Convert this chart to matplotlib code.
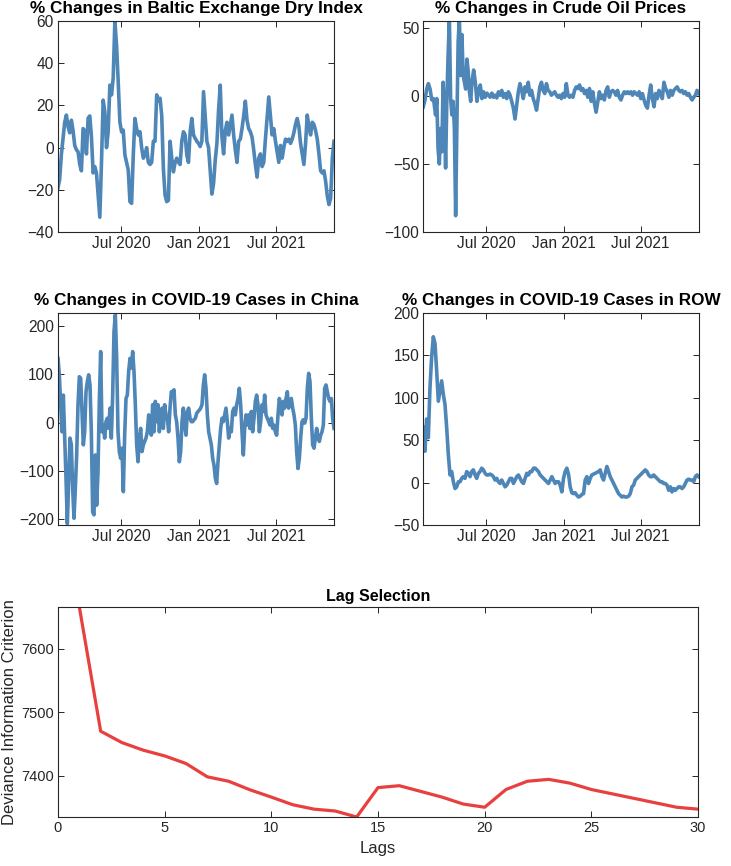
import numpy as np
import pandas as pd
import matplotlib
matplotlib.use("Agg")
import matplotlib.pyplot as plt
import matplotlib.dates as mdates

plt.rcParams['font.family'] = ['Liberation Sans', 'DejaVu Sans']

# ---------------- data ----------------
start_date = "2020-02-03"
end_date = "2021-11-15"

baltic = [-19, -15, -3.5, 4.4, 12, 15.4, 10, 7, 13, 8, 1, -1, -2, -8, -11, 9, 8, -3, 14, 15,
          5, -12, -9, -12, -22.5, -33, -7, 22.5, 17, 0, 7.5, 29.6, 25, 33, 60, 48.6, 31, 12, 7.5, 8.3,
          -3.5, -7, -10.6, -25.6, -26.4, -3.5, 13.8, 9, 6, 7.5, 0, -5, -3.5, 0, -7, -8, -7, 3, 3, 25,
          22, 23.4, 15.4, -10, -22.5, -25.6, -25, 3, -5, -11.5, -7, -5, -7, -8, 3, 7.5, 6, -3.5, -7, 7.5,
          13.8, 6, 4.4, 3, 2, 0.5,
          3, 26.5, 15, 3, 0, -11, -22, -17, -6, 2, 18, 29.6, 5, -3, 8, 12, 6, 10.7, 15.4, 6,
          -1, -7, 3, 4, 9, 15, 22, 13, 9, 7.5, 5, -1, -8, -14, -5, -3, -9, -7, 4, 14,
          24, 15, 6, 9, 3, -2, -7, 1, -5, 0, 4, 3, 4, 2, 4, 7, 11, 13.8, 10, 2,
          -3, -8, 2, 15.4, 10, 6, 12, 11, 8, 4, -3, -11, -12, -11, -16, -23, -27, -24, -5, 3]

oil_early = [-8, -3, 5, 9, 5, -3, -2]
oil_early_dates = ("2020-02-03", "2020-02-27")
oil_crash = [-14, -2, -39, -50, -24, -41, 10, -14, -53, -2, 30, 57, -2, -14, -4,
             -24, -88, -21, 40, 57, 15, 45, 15, 10, 5, 27, 18, 3, -4, 10]
oil_crash_dates = ("2020-03-03", "2020-05-28")
oil_late = [19, 10, -4, 4, 8, -2, 3, -1, 2, 0.5, -1, 2, -1, 0.5, -1.5, 3, 0.5, 4, -1, 1.7,
            -2, 3, 0.5, -4, -9,
            -17,
            -7, 3, 9, 4, -2, 6.6, 3, 10, 0.5, 4, -2, -5.6, -10.5, -2, 6.6, 10, 4, 1.7, 9, 4,
            3, 0.5, 1.7, 3, 0.5, -1, 0.5, -2, 1.7, -1,
            9, 0.5, -1, 0.5, -1, 4, 6.6, 5.4, 8, 4, 5.4, 1.7, 4, -1, 5.4, -4, 3, -5.6, -12,
            -4.4,
            3, -2, 0.5, -3, 4, 6.6, -1, 3, 4, 3, 0.5, 4, -1, -3, 0.5, 3, 1.7, 3, 1.7, 3,
            0.5, 3, 1.7, 0.5, 3, -2, 1.7, -3, -7, -9, 0.5, 8, -2, -8, 1.7, -2, 4, 1.7, -2, 10,
            5.4, 3, -1, 4, 0.5, 4, 5.4, 6.6, 4, 3, 4, 1.7, 3, 0.5, 1.7, -1, -3, -1, 0.5, 4,
            1.7]
oil_late_dates = ("2020-06-01", "2021-11-15")

china = [133, 99, 37, -19, 57, -26, -115, -209, -122, -32, -46, -136, -198, -136, -67, 37, 95, 92, 23, -46,
         -19, 64, 85, 99, 78, -19, -185, -191, -67, -171, -102, 44, 147, -19, -5, -32, 2, 9, -12, 30,
         -32, 57, 189, 223, 133, -19, -60, -74, -53, -143, -26, 50, 57, 106, 133, 113, 147, 106, 37, -46,
         -81, -32, -12, -60, -46, -39, -32, -19, 16, 9, -26, 37, -19, 44, 2, 37, -19, 9, 30, -12,
         37, 16, 9, -19, 30, 64, 64, 68, 16, 2, -32, -81, -60, 2, 30, -5, -26, 23, 30, 9,
         2, 2, 6, 9, 19, 23, 26,
         30, 37, 78, 99, 71, 16, -19, -32, -46, -74, -88, -115, -126, -81, -46, -12, 9, 2, 16, 30,
         2, -32, -12, -19, 23, 30, 16, 37, 50, 71, 37, -19, -67, -12, 16, -5, 16, -12, 23, -19,
         9, 44, 57, 37, -19, 2, 37, 23, 57, 16, 9, 2, -5, 9, -12, -5, -19, -26, 16, 50,
         37, 16, 44, 30, 50, 64, 30, 44, 50, 30, 16, -5, -60, -95, -74, -32, 2, 6, -1, 9,
         71, 102, 85, 9, -46, -53, -32, -12, -32, -39, -26, -19, -5, 71, 78, 64, 50, 44, 50, 9,
         -12]

row = [65, 37, 75, 53, 112, 148, 172, 164, 132, 96, 108, 120, 104, 92, 65, 33, 9, 13, 1, -7,
       -5, 1, 1, 5, 7, 5, 13, 11, 7, 13, 15, 9, 5, 11, 13, 17, 15, 11, 9, 9,
       10, 9, 7, 3, 5, 1, -1, 3, -1, -5, -3, 1, 5, 5, -1, 3, 7, 9, 5, 1,
       -1, 5, 11, 9, 13, 13, 17, 17, 15, 13, 9, 7, 5, 3, 1, -1, 3, 7, 3, -1,
       1, 1, -3, -11, 5, 13,
       17, 10, -5, -12, -13, -12, -15, -17, -16, -14, -13, 3, 7, -1, 5, 9, 10, 11, 12, 13,
       15, 7, 3, 11, 19, 13, 7, 3, -1, -5, -9, -13, -15, -17, -16, -17, -17, -16, -13, -5,
       -3, 3, 5, 7, 9, 11, 13, 15, 13, 9, 7, 7, 9, 7, 5, 3, 1, 1, -1, -1,
       -3, -9, -5, -11, -7, -9, -7, -5, -5, -7, -5, -1, 3, 4, 3, 3, 1, 7, 9, 7]

lags = list(range(1, 31))
dic = [7666, 7470, 7452, 7440, 7431, 7419, 7398, 7391, 7377.5, 7366,
       7354, 7347, 7344, 7334.6, 7381, 7384, 7375, 7366, 7355, 7350,
       7378, 7391, 7394, 7388, 7378, 7371, 7364, 7357, 7350, 7347]

titles = ["% Changes in Baltic Exchange Dry Index", "% Changes in Crude Oil Prices",
          "% Changes in COVID-19 Cases in China", "% Changes in COVID-19 Cases in ROW"]
xtick_dates = ["2020-07-01", "2021-01-01", "2021-07-01"]
yticks = [[-40, -20, 0, 20, 40, 60], [-100, -50, 0, 50],
          [-200, -100, 0, 100, 200], [-50, 0, 50, 100, 150, 200]]
ylims = [(-40, 60), (-100, 55), (-212, 227), (-50, 200)]

# ---------------- build ----------------
def full_range(vals):
    return pd.date_range(start_date, end_date, periods=len(vals))

oil_dates = np.concatenate([
    pd.date_range(*oil_early_dates, periods=len(oil_early)).values,
    pd.date_range(*oil_crash_dates, periods=len(oil_crash)).values,
    pd.date_range(*oil_late_dates, periods=len(oil_late)).values])
oil = oil_early + oil_crash + oil_late

series = [(full_range(baltic), baltic), (oil_dates, oil),
          (full_range(china), china), (full_range(row), row)]

W, H = 731, 866
fig = plt.figure(figsize=(W / 100, H / 100), dpi=100)

def px_axes(l, t, r, b):
    return fig.add_axes([l / W, 1 - b / H, (r - l) / W, (b - t) / H])

boxes = [(58, 21, 334, 232), (423.3, 21, 698.7, 232),
         (58, 313, 334, 525), (423.3, 313, 698.7, 525)]

dark = '#262626'
blue = '#4d86b7'
red = '#e8403f'

def style(ax):
    for s in ax.spines.values():
        s.set_color(dark)
        s.set_linewidth(0.8)
    ax.tick_params(direction='in', top=True, right=True, length=4, width=0.7,
                   colors=dark, labelcolor=dark)

for i, box in enumerate(boxes):
    ax = px_axes(*box)
    x, y = series[i]
    ax.plot(x, y, color=blue, lw=2.6, solid_joinstyle='round')
    ax.set_xlim(pd.Timestamp(start_date), pd.Timestamp(end_date))
    ax.set_ylim(*ylims[i])
    ax.set_yticks(yticks[i])
    ax.set_xticks([pd.Timestamp(d) for d in xtick_dates])
    ax.xaxis.set_major_formatter(mdates.DateFormatter('%b %Y'))
    style(ax)
    ax.tick_params(labelsize=11.2, pad=3)
    ax.set_title(titles[i], fontsize=12.3, fontweight='bold', pad=6, color='black')

ax5 = px_axes(58, 607, 698, 817)
ax5.plot(lags, dic, color=red, lw=2.3)
ax5.set_xlim(0, 30)
ax5.set_ylim(min(dic), max(dic))
ax5.set_xticks(range(0, 31, 5))
ax5.set_yticks([7400, 7500, 7600])
style(ax5)
ax5.tick_params(labelsize=10.5, pad=3)
ax5.set_title("Lag Selection", fontsize=11.5, fontweight='bold', pad=4, color='black')
ax5.set_xlabel("Lags", fontsize=12, color=dark, labelpad=4)
ax5.set_ylabel("Deviance Information Criterion", fontsize=12, color=dark, labelpad=3)

fig.savefig("out.png", dpi=100)
